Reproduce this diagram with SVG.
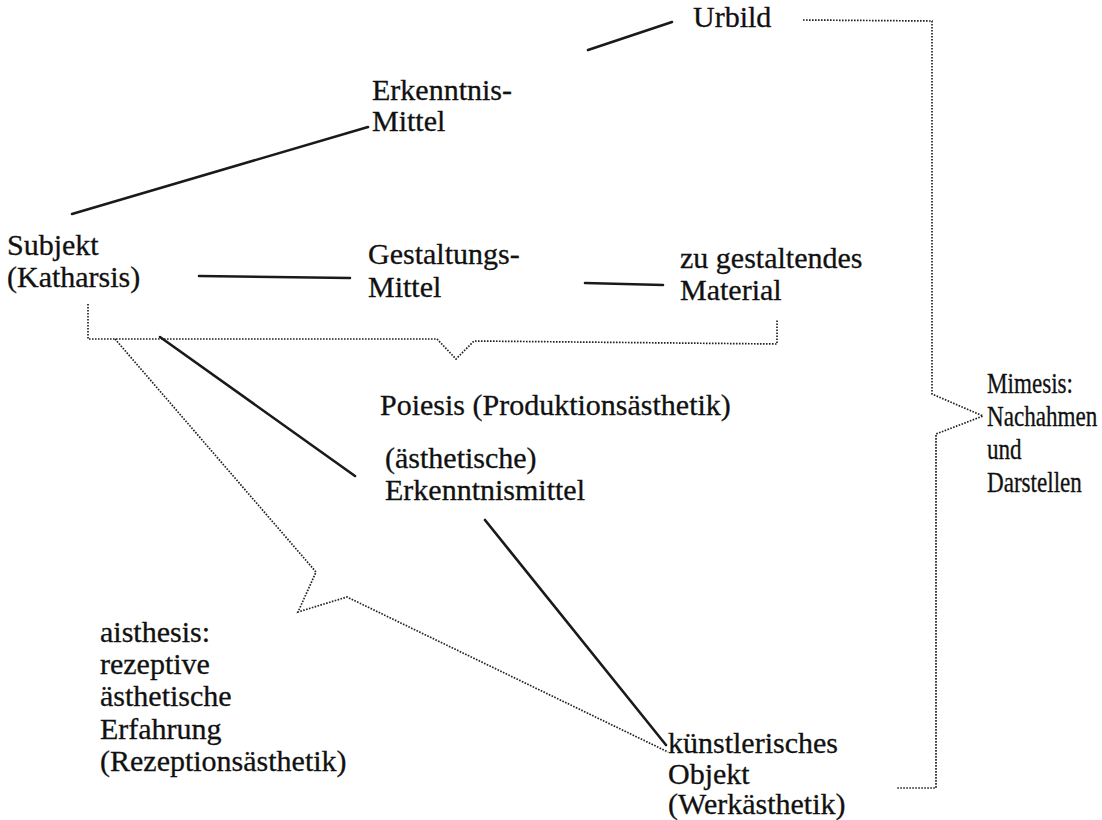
<svg xmlns="http://www.w3.org/2000/svg" width="1102" height="820" viewBox="0 0 1102 820">
  <style>
    text { font-family: "Liberation Serif", "Times New Roman", serif; font-size: 30px; fill: #111; stroke: #111; stroke-width: 0.3; }
    .link { stroke: #1a1a1a; stroke-width: 2.6; fill: none; stroke-linecap: round; }
    .brace { stroke: #222; stroke-width: 1.7; fill: none; stroke-dasharray: 1.6 1.4; }
  </style>
  <rect width="1102" height="820" fill="#ffffff"/>

  <!-- solid connectors between the concepts -->
  <g id="connectors">
    <line class="link" x1="588" y1="50" x2="672" y2="22"/>
    <line class="link" x1="72" y1="214" x2="368" y2="127"/>
    <line class="link" x1="199" y1="276" x2="350" y2="278"/>
    <line class="link" x1="585" y1="283" x2="663" y2="285"/>
    <line class="link" x1="160" y1="337" x2="355" y2="476"/>
    <line class="link" x1="485" y1="520" x2="666" y2="745"/>
  </g>

  <!-- dotted braces grouping the areas of aesthetics -->
  <g id="braces">
    <path id="brace-poiesis" class="brace" d="M88,304 V339 H437 L456,359 L474,341 L777,344 V320"/>
    <path id="brace-aisthesis" class="brace" d="M115,339 L316,572 L298,612 L347,597 L668,752"/>
    <path id="brace-mimesis" class="brace" d="M803,20 L932,21 V394 L983,416 L936,434 V788 H897"/>
  </g>

  <g id="urbild"><text x="693" y="27">Urbild</text></g>
  <g id="erkenntnismittel-oben">
    <text x="372" y="100">Erkenntnis-</text>
    <text x="372" y="131">Mittel</text>
  </g>
  <g id="subjekt">
    <text x="7" y="255">Subjekt</text>
    <text x="7" y="287">(Katharsis)</text>
  </g>
  <g id="gestaltungsmittel">
    <text x="368" y="264">Gestaltungs-</text>
    <text x="368" y="297">Mittel</text>
  </g>
  <g id="material">
    <text x="680" y="268">zu gestaltendes</text>
    <text x="680" y="300">Material</text>
  </g>
  <g id="poiesis"><text x="380" y="415">Poiesis (Produktionsästhetik)</text></g>
  <!-- narrow-set label column at the right margin -->
  <g id="mimesis" transform="matrix(0.77,0,0,1,987,0)">
    <text x="0" y="393">Mimesis:</text>
    <text x="0" y="426">Nachahmen</text>
    <text x="0" y="459">und</text>
    <text x="0" y="492">Darstellen</text>
  </g>
  <g id="erkenntnismittel-aesthetisch">
    <text x="385" y="468">(ästhetische)</text>
    <text x="385" y="500">Erkenntnismittel</text>
  </g>
  <g id="aisthesis">
    <text x="100" y="642">aisthesis:</text>
    <text x="100" y="674">rezeptive</text>
    <text x="100" y="706">ästhetische</text>
    <text x="100" y="739">Erfahrung</text>
    <text x="100" y="771">(Rezeptionsästhetik)</text>
  </g>
  <g id="objekt">
    <text x="668" y="753">künstlerisches</text>
    <text x="668" y="784">Objekt</text>
    <text x="668" y="814">(Werkästhetik)</text>
  </g>
</svg>
